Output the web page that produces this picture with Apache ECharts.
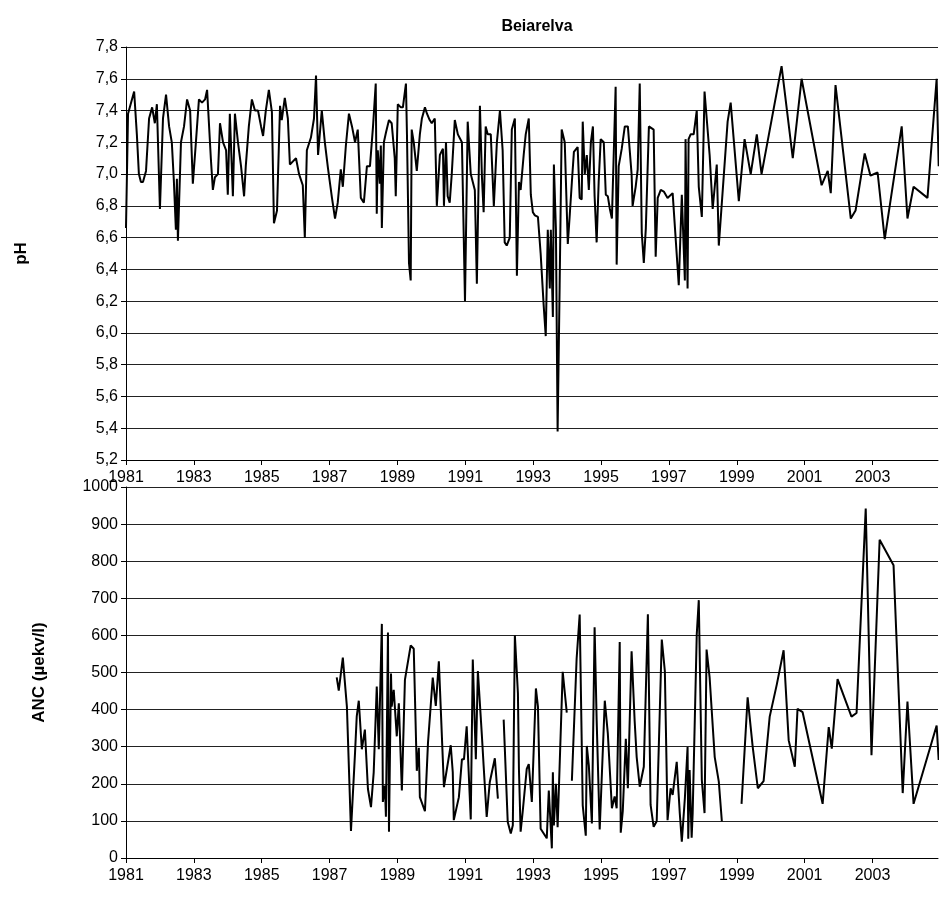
<!DOCTYPE html>
<html>
<head>
<meta charset="utf-8">
<script src="https://cdn.jsdelivr.net/npm/echarts@6/dist/echarts.min.js"></script>
<style>html,body{margin:0;padding:0;background:#fff}#c{width:939px;height:897px}</style>
</head>
<body>
<div id="c"></div>
<script>
// pH samples: [decimal year, pH]
const phData = [
  [1981.00,6.66],[1981.06,7.38],[1981.24,7.52],[1981.32,7.25],[1981.38,7.00],[1981.44,6.95],[1981.50,6.95],[1981.59,7.02],
  [1981.68,7.35],[1981.77,7.42],[1981.85,7.32],[1981.91,7.44],[1982.00,6.78],[1982.09,7.35],[1982.18,7.50],[1982.27,7.30],
  [1982.35,7.20],[1982.41,6.96],[1982.47,6.65],[1982.50,6.97],[1982.53,6.58],[1982.62,7.20],[1982.71,7.30],[1982.80,7.47],
  [1982.89,7.40],[1982.97,6.94],[1983.06,7.20],[1983.15,7.47],[1983.24,7.45],[1983.33,7.47],[1983.39,7.53],[1983.50,7.10],
  [1983.56,6.90],[1983.62,6.98],[1983.71,7.00],[1983.77,7.32],[1983.86,7.20],[1983.95,7.15],[1984.00,6.87],[1984.06,7.38],
  [1984.15,6.86],[1984.21,7.38],[1984.30,7.20],[1984.39,7.05],[1984.48,6.86],[1984.53,7.05],[1984.62,7.30],[1984.71,7.47],
  [1984.80,7.40],[1984.89,7.40],[1984.98,7.30],[1985.04,7.24],[1985.12,7.40],[1985.21,7.53],[1985.30,7.39],[1985.36,6.69],
  [1985.45,6.77],[1985.54,7.43],[1985.59,7.34],[1985.68,7.48],[1985.77,7.35],[1985.83,7.06],[1985.92,7.08],[1986.01,7.10],
  [1986.10,7.00],[1986.21,6.93],[1986.27,6.60],[1986.33,7.15],[1986.45,7.23],[1986.54,7.35],[1986.60,7.62],[1986.66,7.12],
  [1986.77,7.40],[1986.86,7.20],[1986.95,7.04],[1987.07,6.85],[1987.16,6.72],[1987.24,6.82],[1987.33,7.03],[1987.39,6.92],
  [1987.48,7.18],[1987.57,7.38],[1987.66,7.30],[1987.75,7.20],[1987.83,7.28],[1987.92,6.85],[1988.01,6.82],[1988.10,7.05],
  [1988.19,7.05],[1988.28,7.30],[1988.36,7.57],[1988.39,6.75],[1988.42,7.15],[1988.48,6.94],[1988.51,7.18],[1988.54,6.66],
  [1988.60,7.20],[1988.66,7.26],[1988.75,7.34],[1988.83,7.32],[1988.92,7.10],[1988.95,6.86],[1989.01,7.44],[1989.10,7.42],
  [1989.16,7.42],[1989.25,7.57],[1989.28,7.25],[1989.34,6.44],[1989.39,6.33],[1989.42,7.28],[1989.48,7.20],[1989.57,7.02],
  [1989.66,7.25],[1989.72,7.35],[1989.81,7.42],[1989.87,7.38],[1989.95,7.34],[1990.01,7.32],[1990.10,7.35],[1990.16,6.80],
  [1990.25,7.12],[1990.34,7.16],[1990.37,6.80],[1990.43,7.20],[1990.48,6.86],[1990.54,6.82],[1990.60,7.00],[1990.69,7.34],
  [1990.78,7.25],[1990.90,7.20],[1990.99,6.20],[1991.07,7.33],[1991.16,7.00],[1991.28,6.90],[1991.34,6.31],[1991.43,7.43],
  [1991.49,6.98],[1991.54,6.76],[1991.60,7.30],[1991.66,7.25],[1991.75,7.25],[1991.84,6.80],[1991.93,7.20],[1992.02,7.40],
  [1992.10,7.15],[1992.16,6.57],[1992.22,6.55],[1992.31,6.60],[1992.37,7.28],[1992.46,7.35],[1992.52,6.36],[1992.58,6.95],
  [1992.63,6.90],[1992.72,7.12],[1992.78,7.25],[1992.87,7.35],[1992.93,6.87],[1992.99,6.76],[1993.05,6.74],[1993.14,6.73],
  [1993.22,6.50],[1993.31,6.17],[1993.37,5.98],[1993.43,6.65],[1993.49,6.28],[1993.52,6.65],[1993.58,6.10],[1993.61,7.06],
  [1993.67,6.65],[1993.72,5.38],[1993.78,6.30],[1993.84,7.28],[1993.93,7.20],[1994.02,6.56],[1994.08,6.75],[1994.14,6.95],
  [1994.20,7.14],[1994.25,7.14],[1994.31,7.17],[1994.37,6.85],[1994.43,6.84],[1994.46,7.33],[1994.52,7.00],[1994.58,7.12],
  [1994.64,6.90],[1994.70,7.20],[1994.76,7.30],[1994.81,6.86],[1994.87,6.57],[1994.93,6.95],[1994.99,7.22],[1995.08,7.20],
  [1995.14,6.87],[1995.20,6.86],[1995.26,6.78],[1995.32,6.72],[1995.43,7.55],[1995.46,6.43],[1995.52,7.05],[1995.61,7.16],
  [1995.70,7.30],[1995.79,7.30],[1995.90,7.00],[1995.93,6.80],[1996.02,6.92],[1996.08,7.03],[1996.14,7.57],[1996.20,6.63],
  [1996.26,6.44],[1996.32,6.66],[1996.41,7.30],[1996.46,7.30],[1996.55,7.28],[1996.61,6.48],[1996.67,6.85],[1996.76,6.90],
  [1996.85,6.89],[1996.96,6.85],[1997.11,6.88],[1997.29,6.30],[1997.38,6.87],[1997.47,6.33],[1997.49,7.22],[1997.55,6.28],
  [1997.58,7.22],[1997.64,7.25],[1997.73,7.25],[1997.82,7.40],[1997.88,6.92],[1997.97,6.73],[1998.05,7.52],[1998.20,7.12],
  [1998.29,6.78],[1998.41,7.06],[1998.47,6.55],[1998.73,7.33],[1998.82,7.45],[1999.06,6.83],[1999.23,7.22],[1999.41,7.00],
  [1999.59,7.25],[1999.73,7.00],[2000.32,7.68],[2000.65,7.10],[2000.91,7.60],[2001.50,6.93],[2001.68,7.02],[2001.77,6.88],
  [2001.91,7.56],[2002.36,6.72],[2002.50,6.77],[2002.77,7.13],[2002.94,6.99],[2003.15,7.01],[2003.36,6.59],[2003.86,7.30],
  [2004.03,6.72],[2004.21,6.92],[2004.62,6.85],[2004.89,7.60],[2004.95,7.05]
];

// ANC samples: [decimal year, µekv/l]; null = gap in the record
const ancData = [
  [1987.21,487],[1987.27,451],[1987.39,540],[1987.51,408],[1987.63,73],[1987.75,284],[1987.80,382],[1987.86,424],
  [1987.95,293],[1988.04,346],[1988.13,186],[1988.22,137],[1988.30,231],[1988.39,462],[1988.45,293],[1988.54,631],
  [1988.57,151],[1988.63,195],[1988.66,111],[1988.72,608],[1988.75,71],[1988.81,497],[1988.83,408],[1988.89,453],
  [1988.98,328],[1989.04,417],[1989.13,182],[1989.22,480],[1989.39,573],[1989.48,564],[1989.57,235],[1989.63,297],
  [1989.66,164],[1989.81,126],[1989.90,311],[1990.04,486],[1990.13,410],[1990.22,530],[1990.37,191],[1990.57,304],
  [1990.63,231],[1990.66,102],[1990.81,164],[1990.90,266],[1990.96,266],[1991.04,355],[1991.16,104],[1991.22,535],
  [1991.31,266],[1991.37,504],[1991.49,327],[1991.54,248],[1991.63,111],[1991.72,204],[1991.87,269],[1991.96,160],
  [1992.05,null],
  [1992.13,373],[1992.25,97],[1992.34,66],[1992.40,88],[1992.46,600],[1992.55,444],[1992.58,240],[1992.63,71],
  [1992.69,124],[1992.81,240],[1992.87,253],[1992.96,151],[1993.08,457],[1993.14,408],[1993.22,79],[1993.40,53],
  [1993.46,182],[1993.55,26],[1993.58,231],[1993.61,88],[1993.67,200],[1993.72,83],[1993.87,502],[1993.99,392],
  [1994.06,null],
  [1994.14,208],[1994.28,537],[1994.37,656],[1994.46,142],[1994.55,60],[1994.58,302],[1994.64,249],[1994.73,93],
  [1994.81,622],[1994.87,373],[1994.96,77],[1995.11,424],[1995.20,335],[1995.32,134],[1995.40,166],[1995.46,134],
  [1995.55,582],[1995.58,68],[1995.64,126],[1995.73,321],[1995.79,188],[1995.90,557],[1995.99,370],[1996.05,272],
  [1996.14,192],[1996.26,246],[1996.38,657],[1996.46,143],[1996.55,84],[1996.64,99],[1996.79,589],[1996.88,504],
  [1996.96,102],[1997.05,188],[1997.11,170],[1997.23,259],[1997.32,121],[1997.38,44],[1997.47,161],[1997.55,299],
  [1997.57,52],[1997.61,237],[1997.67,55],[1997.70,121],[1997.82,602],[1997.88,695],[1997.97,210],[1998.05,121],
  [1998.11,562],[1998.20,486],[1998.35,272],[1998.47,206],[1998.56,99],
  [1998.80,null],
  [1999.14,146],[1999.32,433],[1999.47,299],[1999.62,188],[1999.79,207],[1999.97,381],[2000.18,468],[2000.38,560],
  [2000.53,317],[2000.71,246],[2000.79,402],[2000.94,393],[2001.53,146],[2001.71,353],[2001.80,295],[2001.97,482],
  [2002.38,381],[2002.53,391],[2002.80,942],[2002.97,277],[2003.21,858],[2003.62,789],[2003.89,175],[2004.03,422],
  [2004.21,146],[2004.89,357],[2004.95,264]
];

const yearMin = 1981;
const yearMax = 2004.93;

const chart = echarts.init(document.getElementById('c'));
const font = 'Liberation Sans, Arial, sans-serif';
const comma = v => v.toFixed(1).replace('.', ',');

function xAxis(gridIndex) {
  return {
    type: 'value', gridIndex, min: yearMin, max: yearMax, interval: 2,
    axisLine: { show: true, onZero: false, lineStyle: { color: '#000' } },
    axisTick: { show: true, length: 5, lineStyle: { color: '#000' } },
    axisLabel: { color: '#000', fontFamily: font, fontSize: 16, margin: 10, showMaxLabel: false,
      formatter: v => Number.isInteger(v) ? String(v) : '' },
    splitLine: { show: false }
  };
}

chart.setOption({
  animation: false,
  title: { text: 'Beiarelva', left: 532, top: 14, textAlign: 'center',
    textStyle: { fontFamily: font, fontSize: 16, fontWeight: 'bold', color: '#000' } },
  grid: [
    { left: 126, right: 1, top: 47, height: 413 },
    { left: 126, right: 1, top: 487, height: 371 }
  ],
  xAxis: [xAxis(0), xAxis(1)],
  yAxis: [
    { type: 'value', gridIndex: 0, min: 5.2, max: 7.8, interval: 0.2,
      name: 'pH', nameLocation: 'middle', nameGap: 96, nameRotate: 90,
      nameTextStyle: { fontFamily: font, fontSize: 17, fontWeight: 'bold', color: '#000' },
      axisLine: { show: true, lineStyle: { color: '#000' } },
      axisTick: { show: true, length: 5, lineStyle: { color: '#000' } },
      axisLabel: { color: '#000', fontFamily: font, fontSize: 16, formatter: comma },
      splitLine: { lineStyle: { color: '#222', width: 1 } } },
    { type: 'value', gridIndex: 1, min: 0, max: 1000, interval: 100,
      name: 'ANC (µekv/l)', nameLocation: 'middle', nameGap: 78, nameRotate: 90,
      nameTextStyle: { fontFamily: font, fontSize: 17, fontWeight: 'bold', color: '#000' },
      axisLine: { show: true, lineStyle: { color: '#000' } },
      axisTick: { show: true, length: 5, lineStyle: { color: '#000' } },
      axisLabel: { color: '#000', fontFamily: font, fontSize: 16, formatter: v => String(v) },
      splitLine: { lineStyle: { color: '#222', width: 1 } } }
  ],
  series: [
    { type: 'line', xAxisIndex: 0, yAxisIndex: 0, data: phData, showSymbol: false,
      lineStyle: { color: '#000', width: 2 }, clip: true },
    { type: 'line', xAxisIndex: 1, yAxisIndex: 1, data: ancData, showSymbol: false, connectNulls: false,
      lineStyle: { color: '#000', width: 2 }, clip: true }
  ]
});
</script>
</body>
</html>
